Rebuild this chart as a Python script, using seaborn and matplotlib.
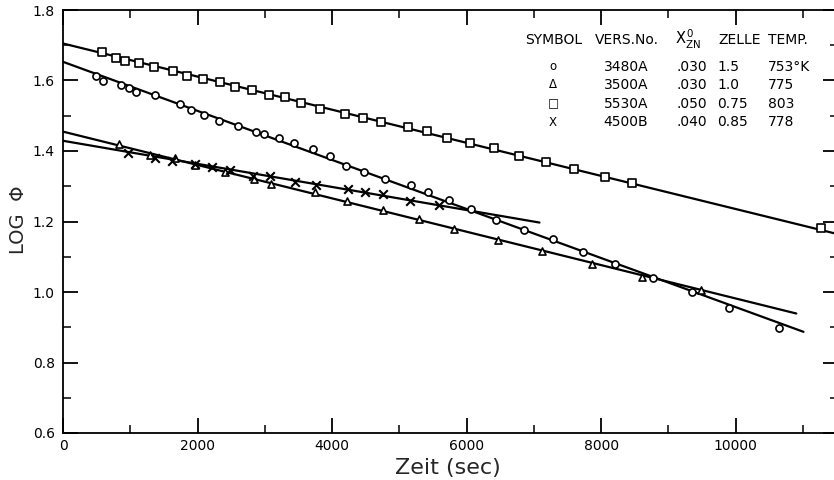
import numpy as np
import pandas as pd
import matplotlib
matplotlib.use("Agg")
import matplotlib.pyplot as plt
import seaborn as sns

# ---- data ----
circ_t = [484, 588, 855, 978, 1081, 1373, 1733, 1907, 2093, 2316, 2597, 2870, 2988, 3205,
          3437, 3719, 3966, 4212, 4474, 4785, 5166, 5427, 5733, 6070, 6440, 6849, 7289,
          7733, 8203, 8770, 9348, 9896, 10648]
circ_v = [1.613, 1.599, 1.588, 1.579, 1.568, 1.558, 1.532, 1.516, 1.502, 1.485, 1.470, 1.454,
          1.449, 1.437, 1.423, 1.405, 1.386, 1.358, 1.341, 1.321, 1.304, 1.283, 1.261, 1.235,
          1.205, 1.175, 1.150, 1.114, 1.080, 1.040, 0.999, 0.954, 0.897]
circ_fit_t = [0, 11007]
circ_fit_v = [1.653, 0.887]

tri_t = [837, 1289, 1670, 1967, 2405, 2833, 3088, 3747, 4219, 4763, 5294, 5810, 6464,
         7126, 7859, 8613, 9490]
tri_v = [1.419, 1.389, 1.379, 1.360, 1.340, 1.321, 1.307, 1.285, 1.259, 1.233, 1.207,
         1.178, 1.147, 1.117, 1.080, 1.043, 1.007]
tri_fit_t = [0, 10900]
tri_fit_v = [1.455, 0.939]

sq_t = [573, 785, 923, 1126, 1353, 1634, 1847, 2079, 2341, 2559, 2815, 3062, 3299, 3545,
        3822, 4188, 4455, 4726, 5121, 5407, 5704, 6045, 6400, 6785, 7185, 7600, 8055,
        8464, 11264]
sq_v = [1.682, 1.665, 1.656, 1.651, 1.638, 1.626, 1.614, 1.604, 1.596, 1.582, 1.572, 1.559,
        1.552, 1.536, 1.520, 1.506, 1.495, 1.483, 1.467, 1.456, 1.437, 1.424, 1.408, 1.387,
        1.368, 1.349, 1.326, 1.309, 1.181]
sq_fit_t = [0, 11520]
sq_fit_v = [1.705, 1.164]

x_t = [962, 1364, 1621, 1967, 2216, 2488, 2818, 3071, 3454, 3767, 4238, 4491, 4763, 5157, 5591]
x_v = [1.393, 1.381, 1.372, 1.364, 1.355, 1.346, 1.330, 1.330, 1.311, 1.304, 1.292, 1.284,
       1.277, 1.258, 1.246]
x_fit_t = [0, 7083]
x_fit_v = [1.429, 1.197]

legend_header = ["SYMBOL", "VERS.No.", r"$\mathrm{X}^{\,0}_{\mathrm{ZN}}$", "ZELLE", "TEMP."]
legend_symbols = ["o", "Δ", "□", "X"]
legend_vers = ["3480A", "3500A", "5530A", "4500B"]
legend_xzn = [".030", ".030", ".050", ".040"]
legend_zelle = ["1.5", "1.0", "0.75", "0.85"]
legend_temp = ["753°K", "775", "803", "778"]

# ---- figure ----
sns.set_theme(style="ticks")
plt.rcParams["font.family"] = ["DejaVu Sans"]

W, H = 834, 480
fig = plt.figure(figsize=(W / 100, H / 100), dpi=100)
left, right, top, bottom = 63, 838, 10, 433
ax = fig.add_axes([left / W, 1 - bottom / H, (right - left) / W, (bottom - top) / H])

lw_fit = 1.6
for ft, fv in [(circ_fit_t, circ_fit_v), (tri_fit_t, tri_fit_v),
               (sq_fit_t, sq_fit_v), (x_fit_t, x_fit_v)]:
    sns.lineplot(x=ft, y=fv, ax=ax, color="black", linewidth=lw_fit, zorder=2)

ms = 26
sns.scatterplot(x=circ_t, y=circ_v, ax=ax, marker="o", s=ms, facecolors="white",
                edgecolor="black", linewidth=1.2, zorder=3)
sns.scatterplot(x=tri_t, y=tri_v, ax=ax, marker="^", s=ms, facecolors="white",
                edgecolor="black", linewidth=1.2, zorder=3)
sns.scatterplot(x=sq_t, y=sq_v, ax=ax, marker="s", s=ms, facecolors="white",
                edgecolor="black", linewidth=1.2, zorder=3)
sns.scatterplot(x=x_t, y=x_v, ax=ax, marker="x", s=38, color="black",
                linewidth=1.5, zorder=3)

ax.set_xlim(0, 11520)
ax.set_ylim(0.6, 1.8)
ax.set_xticks(np.arange(0, 11000, 2000))
ax.set_xticks(np.arange(1000, 11600, 1000), minor=True)
ax.set_yticks(np.arange(0.6, 1.81, 0.2))
ax.set_yticks(np.arange(0.7, 1.8, 0.2), minor=True)
ax.set_xticklabels(["0", "2000", "4000", "6000", "8000", "10000"])
ax.set_yticklabels(["0.6", "0.8", "1.0", "1.2", "1.4", "1.6", "1.8"])
ax.tick_params(axis="both", which="major", direction="in", length=11, width=1.3,
               labelsize=10, colors="black", top=True, right=True)
ax.tick_params(axis="both", which="minor", direction="in", length=6, width=1.3,
               top=True, right=True)
ax.tick_params(axis="x", which="major", pad=4)
ax.tick_params(axis="y", which="major", pad=6)
for s in ax.spines.values():
    s.set_linewidth(1.3)
    s.set_color("black")

ax.set_xlabel("Zeit (sec)", fontsize=16)
ax.xaxis.label.set_va("center")
ax.xaxis.set_label_coords(0.497, -0.082)
ax.set_ylabel("LOG  Φ", fontsize=14)
ax.yaxis.label.set_va("center")
ax.yaxis.set_label_coords(-0.058, 0.505)

# ---- legend table ----
def ftext(px, py, s, size=10, ha="left"):
    fig.text(px / W, 1 - py / H, s, va="center", ha=ha, fontsize=size,
             color="black")

ftext(554, 40, legend_header[0], ha="center")
ftext(627, 40, legend_header[1], ha="center")
ftext(688, 39, legend_header[2], size=10.5, ha="center")
ftext(718, 40, legend_header[3])
ftext(768, 40, legend_header[4])
rows_y = [67, 85, 104, 122]
for i, ry in enumerate(rows_y):
    ftext(553, ry, legend_symbols[i], size=8.5, ha="center")
    ftext(626, ry, legend_vers[i], ha="center")
    ftext(692, ry, legend_xzn[i], ha="center")
    ftext(717, ry, legend_zelle[i])
    ftext(768, ry, legend_temp[i])

fig.savefig("out.png", dpi=100)
